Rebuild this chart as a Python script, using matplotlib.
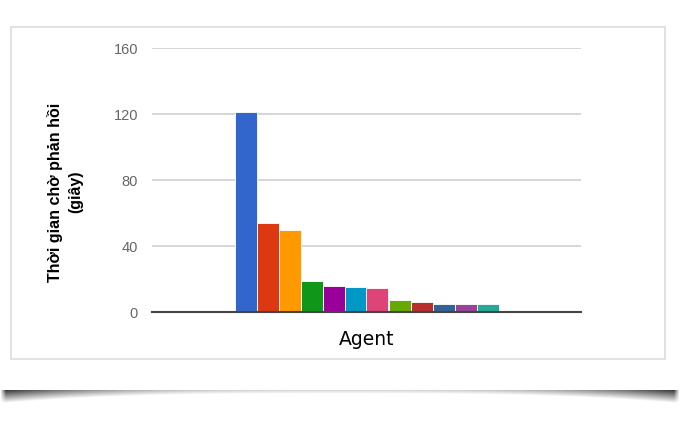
import numpy as np
import matplotlib.pyplot as plt
from matplotlib.patches import Rectangle

# data
agents = ["A1", "A2", "A3", "A4", "A5", "A6", "A7", "A8", "A9", "A10", "A11", "A12"]
wait_time = [121, 54, 50, 18.5, 16, 15, 14.5, 7.5, 6, 5, 5, 5]
colors = ["#3366cc", "#dc3912", "#ff9900", "#109618", "#990099", "#0099c6",
          "#dd4477", "#66aa00", "#b82e2e", "#316395", "#994499", "#22aa99"]
yticks = [0, 40, 80, 120, 160]

W, H = 680, 421
fig = plt.figure(figsize=(W / 100, H / 100), dpi=100)

# card border
fig.patches.append(Rectangle((11 / W, 1 - 359 / H), 654 / W, 332 / H,
                             transform=fig.transFigure, facecolor="white",
                             edgecolor="#dddddd", linewidth=1.2, zorder=-5))

# lift shadow under the card
sh = fig.add_axes([0, 1 - 404 / H, 1, 14 / H])
xs = np.linspace(-1, 1, 680)
ys = np.linspace(0, 1, 14)[:, None]
edge = np.abs(xs) ** 3
thick = 0.25 + 0.75 * edge
dark = 0.15 + 0.65 * edge
alpha = np.clip(1 - ys / thick, 0, 1) * dark
fade = np.clip((1 - np.abs(xs)) * 60, 0, 1)
alpha = alpha * fade
img = np.zeros((14, 680, 4))
img[..., 3] = alpha
sh.imshow(img, aspect="auto", extent=[0, 1, 1, 0])
sh.axis("off")

ax = fig.add_axes([152 / W, 1 - 312 / H, 429 / W, 264 / H])
ax.set_facecolor("none")

n = len(wait_time)
bw = 22 / 429
x0 = 0.5 - n * bw / 2
xpos = x0 + bw * (np.arange(n) + 0.5)
ax.bar(xpos, wait_time, width=bw, color=colors, edgecolor="white",
       linewidth=0.6, zorder=3)

ax.set_xlim(0, 1)
ax.set_ylim(0, 160)
ax.set_yticks(yticks)
ax.set_yticklabels([str(v) for v in yticks], fontsize=10.5,
                   family="Liberation Sans", color="#666666")
ax.set_xticks([])
ax.tick_params(axis="y", length=0, pad=10)
ax.grid(axis="y", color="#d0d0d0", linewidth=1.2, zorder=0)
for s in ["top", "right", "left"]:
    ax.spines[s].set_visible(False)
ax.spines["bottom"].set_color("#444444")
ax.spines["bottom"].set_linewidth(1.5)
ax.spines["bottom"].set_zorder(4)

ax.set_xlabel("Agent", fontsize=13.5, family="DejaVu Sans", labelpad=13)
fig.text(65 / W, 1 - 192 / H, "Thời gian chờ phản hồi\n(giây)", rotation=90,
         ha="center", va="center", fontsize=11.5, fontweight="bold",
         family="Liberation Sans", linespacing=1.45)

fig.savefig("out.png", dpi=100)
